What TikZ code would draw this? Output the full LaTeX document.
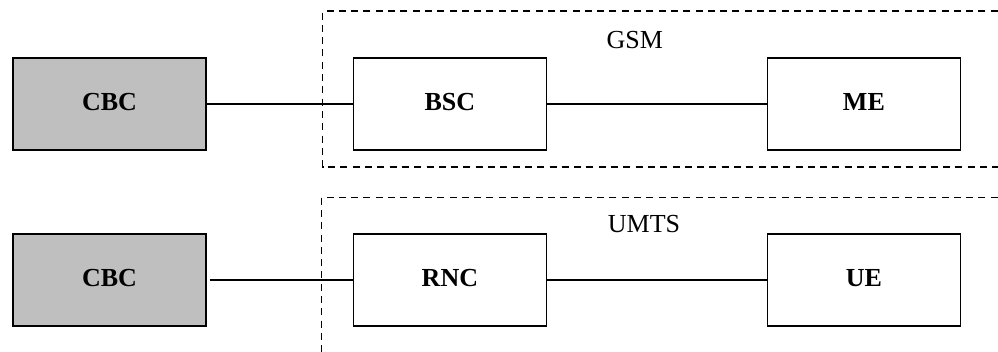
\documentclass[tikz,border=0pt]{standalone}
\usepackage{fontspec}
\setmainfont{Liberation Serif}
\begin{document}
\begin{tikzpicture}[x=1pt,y=-1pt,
  box/.style={draw=black,line width=1.4pt,minimum width=193pt,minimum height=92pt,inner sep=0pt,text height=14pt,text depth=2pt,font=\fontsize{26}{30}\selectfont\bfseries,anchor=north west},
  shaded/.style={box,fill=black!25},
  link/.style={line width=1.2pt},
  zone/.style={draw=black,line width=1.3pt,dash pattern=on 7pt off 5.3pt},
  lbl/.style={font=\fontsize{26}{30}\selectfont,inner sep=0pt}]
\useasboundingbox (0,0) rectangle (998,351);
\draw[zone] (1010,11) -- (322.7,11) -- (322.7,167) -- (1010,167);
\draw[zone] (1010,197.5) -- (321.3,197.5) -- (321.3,360);
\node[shaded] (cbc1) at (12.3,57.3) {CBC};
\node[box] (bsc) at (352.7,57.3) {BSC};
\node[box] (me) at (766.7,57.3) {ME};
\node[shaded] (cbc2) at (12.3,233.3) {CBC};
\node[box] (rnc) at (352.7,233.3) {RNC};
\node[box] (ue) at (766.7,233.3) {UE};
\node[lbl] (gsm) at (634.7,40.5) {GSM};
\node[lbl] (umts) at (644,224) {UMTS};
\draw[link] (cbc1.east) -- (bsc.west);
\draw[link] (bsc.east) -- (me.west);
\draw[link] ([xshift=3pt]cbc2.east) -- (rnc.west);
\draw[link] (rnc.east) -- (ue.west);
\end{tikzpicture}
\end{document}
